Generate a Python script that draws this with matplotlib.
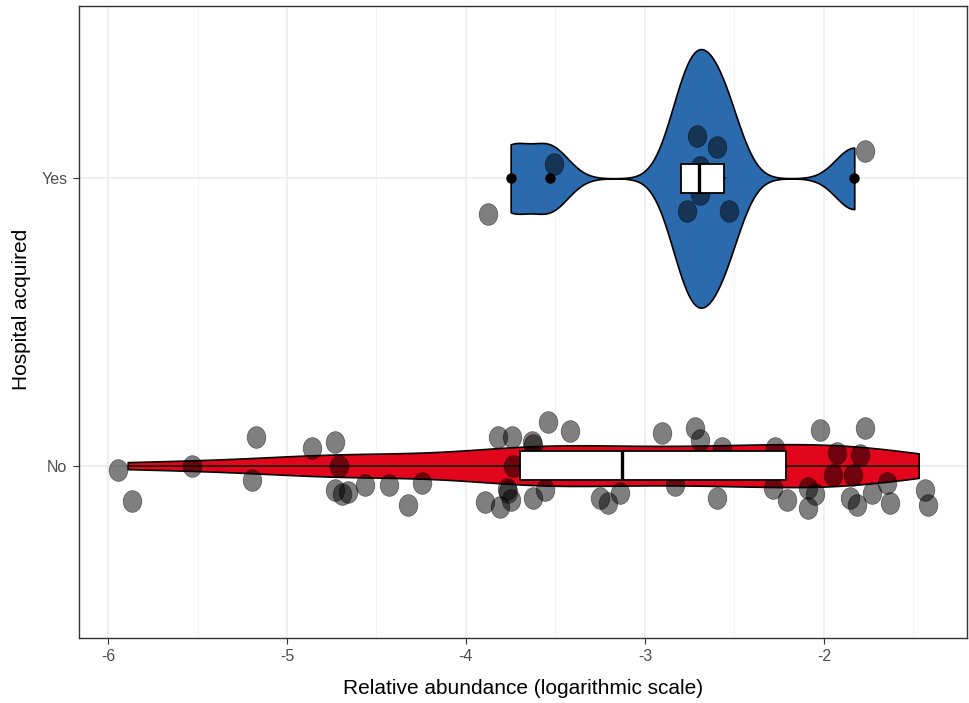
import numpy as np
import matplotlib
matplotlib.use("Agg")
import matplotlib.pyplot as plt
from matplotlib.path import Path
from matplotlib.transforms import Affine2D

plt.rcParams['font.family'] = ['Liberation Sans', 'DejaVu Sans']
plt.rcParams['axes.unicode_minus'] = False

# groups on the y axis
groups = ['No', 'Yes']
fills = ['#E1061B', '#2B6AAD']

# relative abundance (log10) per patient
no_values = [-5.89, -5.85, -5.53, -5.20, -5.17, -4.86, -4.73, -4.72, -4.70, -4.68,
             -4.66, -4.56, -4.43, -4.32, -4.25, -3.89, -3.70, -3.69, -3.68, -3.67,
             -3.66, -3.65, -3.64, -3.63, -3.62, -3.61, -3.56, -3.54, -3.42, -3.25,
             -3.21, -3.15, -3.13, -3.05, -2.98, -2.905, -2.85, -2.83, -2.72, -2.69,
             -2.62, -2.60, -2.57, -2.50, -2.40, -2.33, -2.285, -2.275, -2.21, -2.09,
             -2.08, -2.05, -2.02, -1.95, -1.93, -1.86, -1.84, -1.82, -1.80, -1.77,
             -1.73, -1.65, -1.63, -1.50, -1.47]
yes_values = [-3.75, -3.53, -2.80, -2.76, -2.70, -2.67, -2.56, -2.55, -1.83]

# jittered points as drawn
no_points_x = [-5.944, -5.866, -5.53, -5.196, -5.173, -4.86, -4.732, -4.73, -4.71, -4.69,
               -4.66, -4.564, -4.43, -4.324, -4.246, -3.894, -3.821, -3.81, -3.77, -3.765,
               -3.75, -3.743, -3.737, -3.631, -3.626, -3.626, -3.559, -3.542, -3.419, -3.251,
               -3.207, -3.14, -2.905, -2.832, -2.721, -2.693, -2.598, -2.57, -2.285, -2.274,
               -2.207, -2.089, -2.089, -2.05, -2.022, -1.95, -1.927, -1.855, -1.838, -1.816,
               -1.80, -1.771, -1.732, -1.648, -1.631, -1.436, -1.419]
no_points_y = [0.986, 0.878, 0.997, 0.951, 1.100, 1.063, 1.084, 0.916, 1.000, 0.900,
               0.909, 0.934, 0.934, 0.864, 0.941, 0.874, 1.098, 0.857, 0.920, 0.909,
               0.880, 1.098, 0.997, 1.084, 1.073, 0.889, 0.916, 1.153, 1.120, 0.889,
               0.871, 0.906, 1.115, 0.934, 1.132, 1.090, 0.889, 1.063, 0.923, 1.063,
               0.882, 0.923, 0.854, 0.900, 1.125, 0.969, 1.045, 0.889, 0.969, 0.864,
               1.038, 1.132, 0.906, 0.941, 0.871, 0.916, 0.864]
yes_points_x = [-3.877, -3.508, -2.765, -2.709, -2.693, -2.693, -2.598, -2.531, -1.771]
yes_points_y = [1.875, 2.049, 1.885, 2.146, 2.038, 1.944, 2.108, 1.885, 2.094]

x_ticks = [-6, -5, -4, -3, -2]


def nrd0(x):
    x = np.asarray(x)
    q75, q25 = np.percentile(x, [75, 25])
    lo = min(x.std(ddof=1), (q75 - q25) / 1.34)
    return 0.9 * lo * len(x) ** -0.2


def kde(x, grid):
    x = np.asarray(x)
    bw = nrd0(x)
    z = (grid[:, None] - x[None, :]) / bw
    return np.exp(-0.5 * z ** 2).sum(axis=1) / (len(x) * bw * np.sqrt(2 * np.pi))


fig = plt.figure(figsize=(9.69, 7.03), dpi=100)
ax = fig.add_axes([78.5 / 969, 1 - 638 / 703, (967 - 78.5) / 969, (638 - 6) / 703])

# violins, area scaled across groups
data = [no_values, yes_values]
grids = [np.linspace(min(v), max(v), 512) for v in data]
dens = [kde(v, g) for v, g in zip(data, grids)]
dmax = max(d.max() for d in dens)
for i, (g, d) in enumerate(zip(grids, dens)):
    half = 0.45 * d / dmax
    ax.fill_between(g, i + 1 - half, i + 1 + half, facecolor=fills[i],
                    edgecolor='black', linewidth=1.2, zorder=2)

# jittered points
ell = Path.unit_circle().transformed(Affine2D().scale(0.86, 1.0))
ax.scatter(no_points_x, no_points_y, marker=ell, s=245, c='black', alpha=0.5,
           linewidths=0.5, edgecolors='black', zorder=3)
ax.scatter(yes_points_x, yes_points_y, marker=ell, s=245, c='black', alpha=0.5,
           linewidths=0.5, edgecolors='black', zorder=3)

# boxplots
ax.boxplot(data, positions=[1, 2], orientation='horizontal', widths=0.1,
           patch_artist=True, showcaps=False, manage_ticks=False,
           boxprops=dict(facecolor='white', edgecolor='black', linewidth=1.3),
           medianprops=dict(color='black', linewidth=2.4),
           whiskerprops=dict(color='black', linewidth=1.1),
           flierprops=dict(marker='o', markerfacecolor='black', markeredgecolor='black',
                           markersize=6.5),
           zorder=4)

ax.set_xlim(-6.165, -1.2)
ax.set_ylim(0.4, 2.6)
ax.set_xticks(x_ticks)
ax.set_xticklabels([str(t) for t in x_ticks])
ax.set_xticks(np.arange(-5.5, -1.4, 1.0), minor=True)
ax.set_yticks([1, 2])
ax.set_yticklabels(groups)

ax.grid(True, which='major', color='#EBEBEB', linewidth=1.1, zorder=0)
ax.grid(True, which='minor', axis='x', color='#F2F2F2', linewidth=0.6, zorder=0)
ax.set_axisbelow(True)
ax.tick_params(which='major', length=4, width=0.8, color='#333333',
               labelsize=11.5, labelcolor='#4D4D4D', pad=4)
ax.tick_params(which='minor', length=0)
for s in ax.spines.values():
    s.set_color('#333333')
    s.set_linewidth(1.0)

ax.set_xlabel('Relative abundance (logarithmic scale)', fontsize=15, labelpad=11)
ax.set_ylabel('Hospital acquired', fontsize=15)
ax.yaxis.set_label_coords(-0.0535, 0.52)

fig.savefig('out.png', dpi=100)
